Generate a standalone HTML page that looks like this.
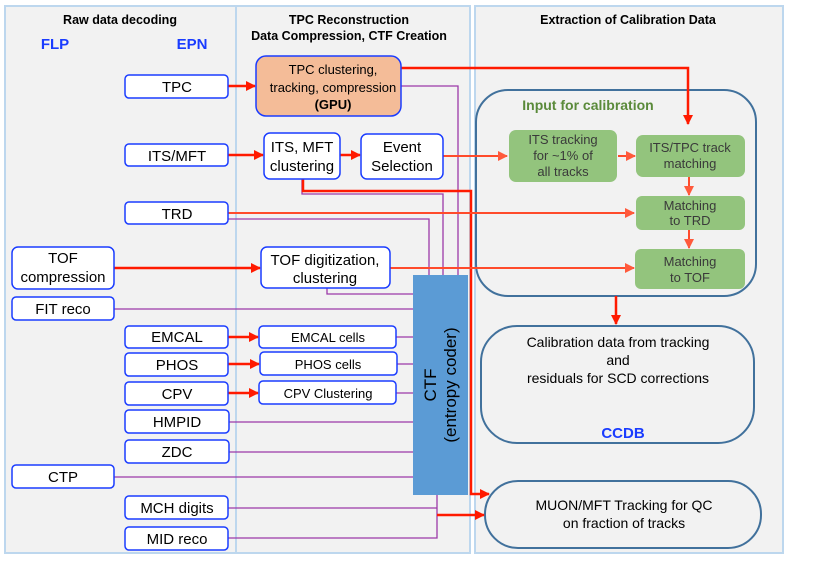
<!DOCTYPE html>
<html><head><meta charset="utf-8"><style>
html,body{margin:0;padding:0;background:#fff;}
svg{display:block;font-family:"Liberation Sans",Arial,sans-serif;}
</style></head><body>
<svg width="822" height="577" viewBox="0 0 822 577" xmlns="http://www.w3.org/2000/svg">
<defs>
<marker id="ar" markerWidth="10" markerHeight="10" refX="9" refY="5" orient="auto" markerUnits="userSpaceOnUse"><path d="M0,0 L10,5 L0,10 z" fill="#ff1a00"/></marker>
<marker id="ar2" markerWidth="10" markerHeight="10" refX="9" refY="5" orient="auto" markerUnits="userSpaceOnUse"><path d="M0,0 L10,5 L0,10 z" fill="#ff5a3c"/></marker>
</defs>
<rect x="5" y="6" width="231" height="547" fill="#f2f2f2" stroke="#bdd7ee" stroke-width="2"/>
<rect x="236" y="6" width="234" height="547" fill="#f2f2f2" stroke="#bdd7ee" stroke-width="2"/>
<rect x="475" y="6" width="308" height="547" fill="#f2f2f2" stroke="#bdd7ee" stroke-width="2"/>
<g font-weight="bold" font-size="12.5" text-anchor="middle" fill="#000">
<text x="120" y="24">Raw data decoding</text>
<text x="349" y="24">TPC Reconstruction</text>
<text x="349" y="40">Data Compression, CTF Creation</text>
<text x="628" y="24">Extraction of Calibration Data</text>
</g>
<g font-weight="bold" font-size="15" fill="#1a3cff" text-anchor="middle">
<text x="55" y="49">FLP</text><text x="192" y="49">EPN</text>
</g>

<rect x="476" y="90" width="280" height="206" rx="32" fill="#f2f2f2" stroke="#41719c" stroke-width="2"/>
<text x="588" y="110" font-weight="bold" font-size="14" fill="#5a8a3a" text-anchor="middle">Input for calibration</text>
<rect x="481" y="326" width="273" height="117" rx="36" fill="#f2f2f2" stroke="#41719c" stroke-width="2"/>
<rect x="485" y="481" width="276" height="67" rx="33" fill="#f2f2f2" stroke="#41719c" stroke-width="2"/>
<g font-size="14" text-anchor="middle" fill="#000">
<text x="618" y="347">Calibration data from tracking</text>
<text x="618" y="365">and</text>
<text x="618" y="383">residuals for SCD corrections</text>
<text x="624" y="510">MUON/MFT Tracking for QC</text>
<text x="624" y="528">on fraction of tracks</text>
</g>
<text x="623" y="438" font-weight="bold" font-size="15" fill="#1a3cff" text-anchor="middle">CCDB</text>

<g stroke="#9b3aa8" stroke-width="1.3" fill="none">
<path d="M401,86 H458 V276"/>
<path d="M302,179 V194 H443 V276"/>
<path d="M228,219 H429 V276"/>
<path d="M327,288 V294 H414"/>
<path d="M114,309 H414"/>
<path d="M396,337 H414"/><path d="M397,364 H414"/><path d="M396,393 H414"/>
<path d="M228,422 H414"/><path d="M228,452 H414"/><path d="M114,477 H414"/>
<path d="M437,494 V538 H228"/><path d="M228,508 H437"/>
</g>
<g stroke="#ff1a00" stroke-width="2.5" fill="none">
<path d="M228,86 H255" marker-end="url(#ar)"/>
<path d="M228,155 H263" marker-end="url(#ar)"/>
<path d="M340,155 H360" marker-end="url(#ar)"/>
<path d="M401,68 H688 V124" marker-end="url(#ar)"/>
<path d="M303,179 V191 H471 V494 H489" marker-end="url(#ar)"/>
<path d="M114,268 H260" marker-end="url(#ar)"/>
<path d="M228,337 H258" marker-end="url(#ar)"/>
<path d="M228,364 H259" marker-end="url(#ar)"/>
<path d="M228,393 H258" marker-end="url(#ar)"/>
<path d="M437,515 H484" marker-end="url(#ar)"/>
<path d="M616,296 V324" marker-end="url(#ar)"/>
</g>
<g stroke="#ff4b2b" stroke-width="2" fill="none">
<path d="M443,156 H507" marker-end="url(#ar2)"/>
<path d="M228,213 H634" marker-end="url(#ar2)"/>
<path d="M390,268 H634" marker-end="url(#ar2)"/>
<path d="M618,156 H635" marker-end="url(#ar2)"/>
<path d="M689,177 V195" marker-end="url(#ar2)"/>
<path d="M689,230 V248" marker-end="url(#ar2)"/>
</g>

<rect x="413" y="275" width="55" height="220" fill="#5b9bd5"/>
<text transform="translate(436,385) rotate(-90)" font-size="17" text-anchor="middle" fill="#000">CTF</text>
<text transform="translate(456,385) rotate(-90)" font-size="17" text-anchor="middle" fill="#000">(entropy coder)</text>

<g fill="#93c47d">
<rect x="509" y="130" width="108" height="52" rx="7"/>
<rect x="636" y="135" width="109" height="42" rx="7"/>
<rect x="636" y="196" width="109" height="34" rx="6"/>
<rect x="635" y="249" width="110" height="40" rx="6"/>
</g>
<g font-size="13" fill="#3a3a3a" text-anchor="middle">
<text x="563" y="144">ITS tracking</text><text x="563" y="160">for ~1% of</text><text x="563" y="176">all tracks</text>
<text x="690" y="152">ITS/TPC track</text><text x="690" y="168">matching</text>
<text x="690" y="210">Matching</text><text x="690" y="225">to TRD</text>
<text x="690" y="266">Matching</text><text x="690" y="282">to TOF</text>
</g>

<g fill="#fff" stroke="#1a3cff" stroke-width="1.5">
<rect x="125" y="75" width="103" height="23" rx="4"/>
<rect x="125" y="144" width="103" height="22" rx="4"/>
<rect x="125" y="202" width="103" height="22" rx="4"/>
<rect x="12" y="247" width="102" height="42" rx="6"/>
<rect x="12" y="297" width="102" height="23" rx="4"/>
<rect x="125" y="326" width="103" height="22" rx="4"/>
<rect x="125" y="353" width="103" height="23" rx="4"/>
<rect x="125" y="382" width="103" height="23" rx="4"/>
<rect x="125" y="410" width="104" height="23" rx="4"/>
<rect x="125" y="440" width="104" height="23" rx="4"/>
<rect x="12" y="465" width="102" height="23" rx="4"/>
<rect x="125" y="496" width="103" height="23" rx="4"/>
<rect x="125" y="527" width="103" height="23" rx="4"/>
<rect x="264" y="133" width="76" height="46" rx="6"/>
<rect x="361" y="134" width="82" height="45" rx="6"/>
<rect x="261" y="247" width="129" height="41" rx="6"/>
<rect x="259" y="326" width="137" height="22" rx="4"/>
<rect x="260" y="352" width="137" height="23" rx="4"/>
<rect x="259" y="381" width="137" height="23" rx="4"/>
<rect x="256" y="56" width="145" height="60" rx="10" fill="#f4bc98"/>
</g>
<g font-size="15" fill="#000" text-anchor="middle">
<text x="177" y="92">TPC</text>
<text x="177" y="161">ITS/MFT</text>
<text x="177" y="219">TRD</text>
<text x="63" y="263">TOF</text><text x="63" y="282">compression</text>
<text x="63" y="314">FIT reco</text>
<text x="177" y="342">EMCAL</text>
<text x="177" y="370">PHOS</text>
<text x="177" y="399">CPV</text>
<text x="177" y="427">HMPID</text>
<text x="177" y="457">ZDC</text>
<text x="63" y="482">CTP</text>
<text x="177" y="513">MCH digits</text>
<text x="177" y="544">MID reco</text>
<text x="302" y="152">ITS, MFT</text><text x="302" y="171">clustering</text>
<text x="402" y="152">Event</text><text x="402" y="171">Selection</text>
<text x="325" y="265">TOF digitization,</text><text x="325" y="283">clustering</text>
</g>
<g font-size="13" fill="#000" text-anchor="middle">
<text x="328" y="342">EMCAL cells</text>
<text x="328" y="369">PHOS cells</text>
<text x="328" y="398">CPV Clustering</text>
<text x="333" y="74">TPC clustering,</text>
<text x="333" y="92">tracking, compression</text>
<text x="333" y="109" font-weight="bold">(GPU)</text>
</g>
</svg>
</body></html>
